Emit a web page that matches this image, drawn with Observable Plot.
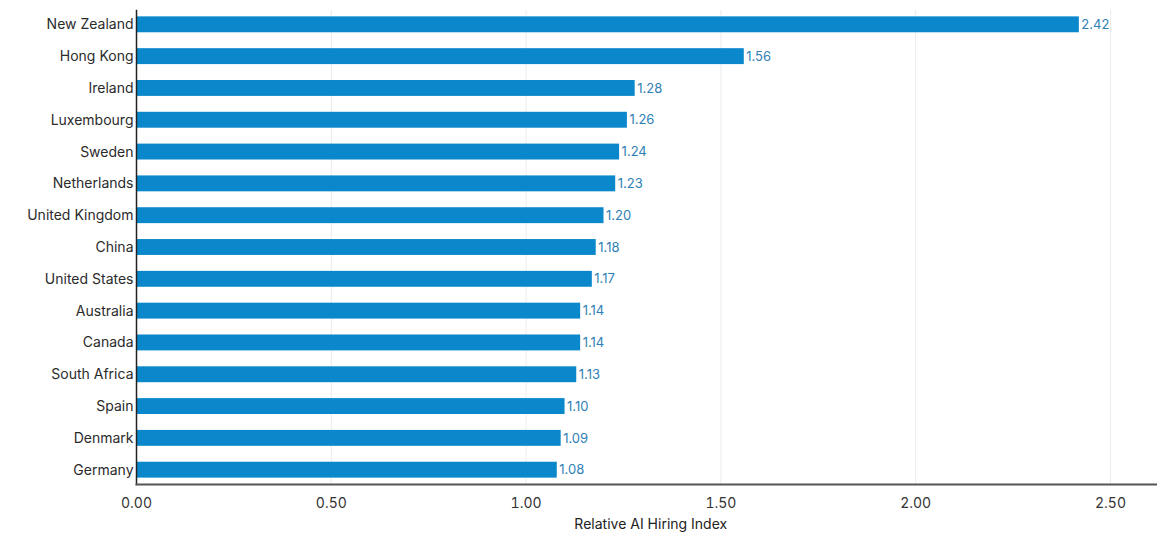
<!DOCTYPE html>
<html>
<head>
<meta charset="utf-8">
<script src="https://cdn.jsdelivr.net/npm/d3@7"></script>
<script src="https://cdn.jsdelivr.net/npm/@observablehq/plot@0.6"></script>
<style>
  body { margin: 0; background: #fff; font-family: "Inter", "Noto Sans", sans-serif; }
</style>
</head>
<body>
<div id="chart"></div>
<script>
const countries = ["New Zealand","Hong Kong","Ireland","Luxembourg","Sweden","Netherlands","United Kingdom","China","United States","Australia","Canada","South Africa","Spain","Denmark","Germany"];
const values = [2.42,1.56,1.28,1.26,1.24,1.23,1.20,1.18,1.17,1.14,1.14,1.13,1.10,1.09,1.08];
const xTicks = [0, 0.5, 1, 1.5, 2, 2.5];
const xLabel = "Relative AI Hiring Index";

const data = countries.map((c, i) => ({country: c, value: values[i]}));
const fmt = d3.format(".2f");

const chart = Plot.plot({
  width: 1157,
  height: 535,
  marginLeft: 136,
  marginRight: 0,
  marginTop: 10,
  marginBottom: 51,
  style: {fontFamily: "Inter, 'Noto Sans', sans-serif", fontSize: "13px", color: "#333", background: "#fff"},
  x: {domain: [0, 2.5], range: [136, 1110]},
  y: {domain: countries, paddingInner: 0.5, paddingOuter: 0.2, round: false},
  marks: [
    Plot.gridX(xTicks, {stroke: "#ececec", strokeOpacity: 1}),
    Plot.barX(data, {x: "value", y: "country", fill: "#0a88cb"}),
    Plot.text(data, {x: "value", y: "country", text: d => fmt(d.value), textAnchor: "start", dx: 2, fill: "#2f80b5", fontSize: 13}),
    Plot.axisY({tickSize: 0, tickPadding: 3, fontSize: 14, fill: "#2b2b2b", label: null}),
    Plot.axisX(xTicks, {tickSize: 0, tickPadding: 14, fontSize: 14, fill: "#333", tickFormat: fmt, label: null}),
    Plot.text([xLabel], {x: 1.32, frameAnchor: "bottom", dy: 44, text: d => d, fontSize: 14, fill: "#222"}),
    Plot.frame({anchor: "left", stroke: "#222", strokeWidth: 1.5}),
    Plot.frame({anchor: "bottom", stroke: "#555", strokeWidth: 2})
  ]
});
document.getElementById("chart").appendChild(chart);
</script>
</body>
</html>
